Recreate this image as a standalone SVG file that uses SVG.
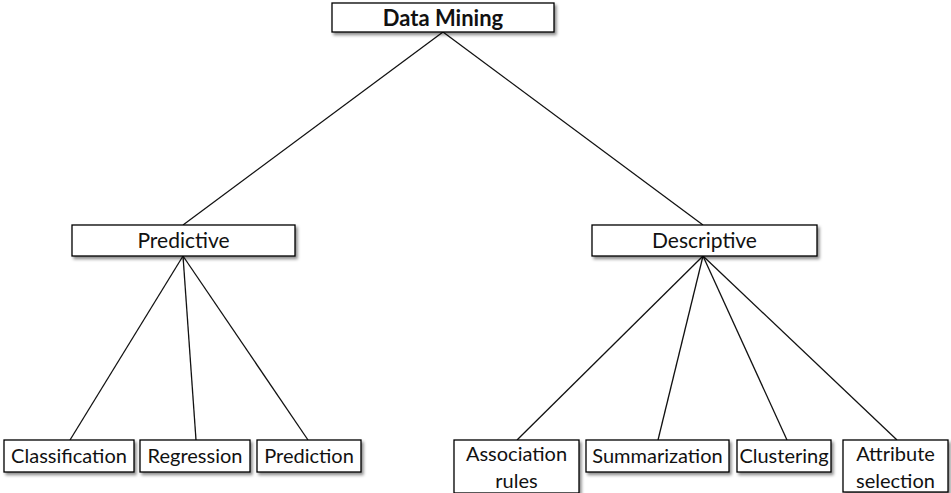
<svg xmlns="http://www.w3.org/2000/svg" width="951" height="493" viewBox="0 0 951 493">
<defs>
<filter id="sh" x="-10%" y="-20%" width="120%" height="150%">
<feDropShadow dx="2" dy="2.5" stdDeviation="1.5" flood-color="#000" flood-opacity="0.45"/>
</filter>
<style>
.box{fill:#fff;stroke:#000;stroke-width:1.3;filter:url(#sh)}
.t{font-family:Lato,"Open Sans",sans-serif;font-size:20px;fill:#111;text-anchor:middle}
.b{font-weight:bold;font-size:22px}
.m{font-size:21px}
.c line{stroke:#111;stroke-width:1.3}
</style>
</defs>
<rect width="951" height="493" fill="#fff"/>
<g class="c" id="connectors">
<line x1="443" y1="32" x2="183" y2="225"/>
<line x1="443" y1="32" x2="703" y2="225"/>
<line x1="183" y1="256" x2="70" y2="440"/>
<line x1="183" y1="256" x2="196" y2="440"/>
<line x1="183" y1="256" x2="308" y2="440"/>
<line x1="703" y1="256" x2="517" y2="440"/>
<line x1="703" y1="256" x2="658" y2="440"/>
<line x1="703" y1="256" x2="787" y2="440"/>
<line x1="703" y1="256" x2="897" y2="440"/>
</g>
<g id="data-mining"><rect class="box" x="332" y="3" width="222" height="29"/><text class="t b" x="443" y="26">Data Mining</text></g>
<g id="predictive"><rect class="box" x="72" y="225" width="223" height="31"/><text class="t m" x="183.5" y="248">Predictive</text></g>
<g id="descriptive"><rect class="box" x="592" y="225" width="225" height="31"/><text class="t m" x="704.5" y="248">Descriptive</text></g>
<g id="classification"><rect class="box" x="4" y="440" width="130" height="32"/><text class="t" x="69" y="463">Classification</text></g>
<g id="regression"><rect class="box" x="140" y="440" width="110" height="32"/><text class="t" x="195" y="463">Regression</text></g>
<g id="prediction"><rect class="box" x="257" y="440" width="104" height="32"/><text class="t" x="309" y="463">Prediction</text></g>
<g id="association"><rect class="box" x="454" y="440" width="125" height="53"/><text class="t" x="516.5" y="461">Association</text><text class="t" x="516.5" y="488">rules</text></g>
<g id="summarization"><rect class="box" x="586" y="440" width="143" height="32"/><text class="t" x="657.5" y="463">Summarization</text></g>
<g id="clustering"><rect class="box" x="737" y="440" width="94" height="32"/><text class="t" x="784" y="463">Clustering</text></g>
<g id="attribute"><rect class="box" x="843" y="440" width="105" height="52"/><text class="t" x="895.5" y="461">Attribute</text><text class="t" x="895.5" y="488">selection</text></g>
</svg>
